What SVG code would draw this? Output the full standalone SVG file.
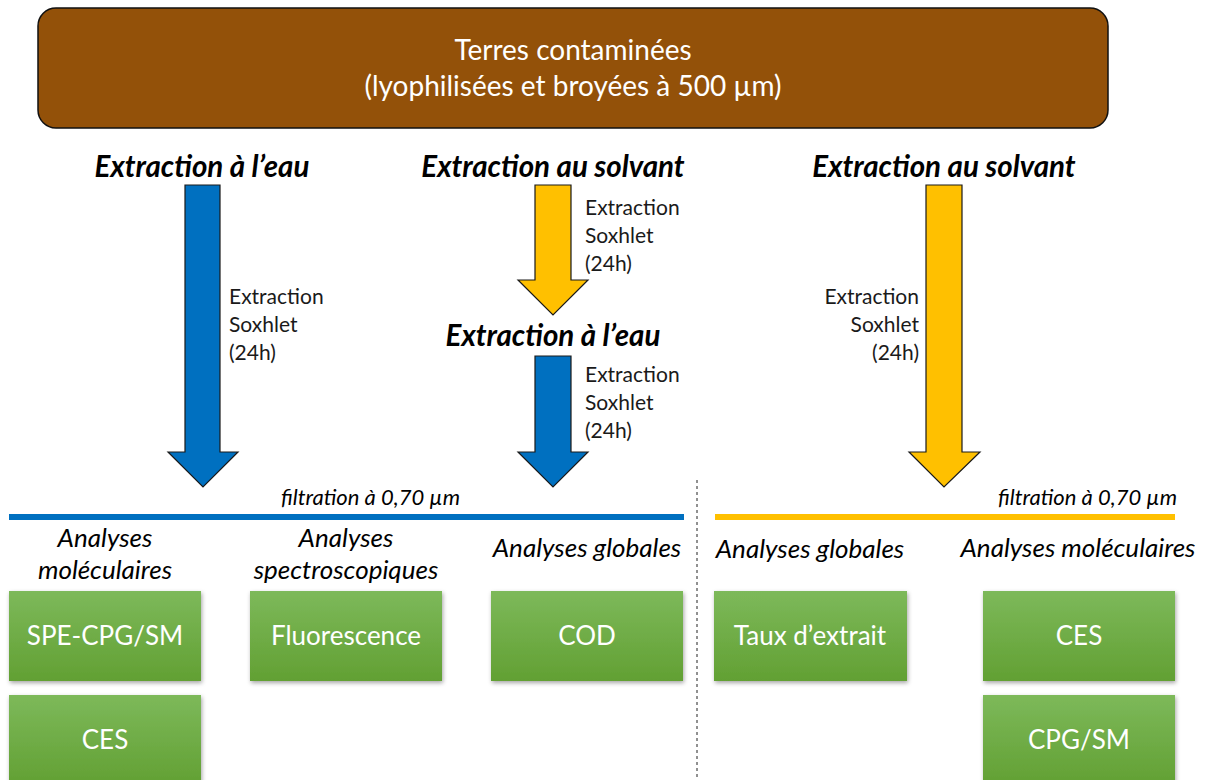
<svg xmlns="http://www.w3.org/2000/svg" width="1205" height="780" viewBox="0 0 1205 780">
<defs>
<linearGradient id="g" x1="0" y1="0" x2="0" y2="1"><stop offset="0" stop-color="#7db95a"/><stop offset="1" stop-color="#62a033"/></linearGradient>
<filter id="sh" x="-10%" y="-10%" width="125%" height="130%"><feDropShadow dx="1" dy="2" stdDeviation="2" flood-color="#000" flood-opacity="0.35"/></filter>
</defs>
<style>
text{font-family:Lato,"Open Sans","Liberation Sans",sans-serif}
.h{font-weight:bold;font-style:italic;font-size:29.5px;fill:#000;text-anchor:middle}
.s{font-size:21px;fill:#1a1a1a}
.a{font-style:italic;font-size:26px;fill:#000;text-anchor:middle}
.f{font-style:italic;font-size:22px;fill:#000;text-anchor:end}
.b{fill:url(#g);filter:url(#sh)}
.bt{font-size:26px;fill:#fff;text-anchor:middle}
.arb{fill:#0070c0;stroke:#1a1a1a;stroke-width:1.2}
.ary{fill:#ffc000;stroke:#1a1a1a;stroke-width:1.2}
</style>
<g id="top">
<rect x="38" y="8" width="1070" height="120" rx="18" fill="#935109" stroke="#111" stroke-width="1.5"/>
<text x="573" y="60" font-size="28" fill="#fff" text-anchor="middle">Terres contaminées</text>
<text x="573" y="96" font-size="28" fill="#fff" text-anchor="middle">(lyophilisées et broyées à 500 µm)</text>
</g>
<g id="headings">
<text class="h" x="202" y="177">Extraction à l’eau</text>
<text class="h" x="553" y="177">Extraction au solvant</text>
<text class="h" x="553" y="346">Extraction à l’eau</text>
<text class="h" x="944" y="177">Extraction au solvant</text>
</g>
<g id="connectors">
<path class="arb" d="M185,185 H220 V452 H238 L203,487 L168,452 H185 Z"/>
<path class="ary" d="M535,185 H571 V280 H588 L553,315 L518,280 H535 Z"/>
<path class="arb" d="M535,356 H571 V452 H588 L553,487 L518,452 H535 Z"/>
<path class="ary" d="M926,185 H962 V452 H980 L944,487 L909,452 H926 Z"/>
<rect x="9" y="514" width="675" height="6" fill="#0070c0"/>
<rect x="715" y="514" width="460" height="6" fill="#ffc000"/>
<line x1="697" y1="480" x2="697" y2="780" stroke="#222" stroke-width="1" stroke-dasharray="3,3"/>
</g>
<g id="labels">
<text class="s" x="229" y="304">Extraction</text>
<text class="s" x="229" y="332">Soxhlet</text>
<text class="s" x="229" y="360">(24h)</text>
<text class="s" x="585" y="215">Extraction</text>
<text class="s" x="585" y="243">Soxhlet</text>
<text class="s" x="585" y="271">(24h)</text>
<text class="s" x="585" y="382">Extraction</text>
<text class="s" x="585" y="410">Soxhlet</text>
<text class="s" x="585" y="438">(24h)</text>
<text class="s" x="919" y="304" text-anchor="end">Extraction</text>
<text class="s" x="919" y="332" text-anchor="end">Soxhlet</text>
<text class="s" x="919" y="360" text-anchor="end">(24h)</text>
<text class="f" x="460" y="505">filtration à 0,70 µm</text>
<text class="f" x="1177" y="505">filtration à 0,70 µm</text>
<text class="a" x="105" y="547">Analyses</text>
<text class="a" x="105" y="579">moléculaires</text>
<text class="a" x="346" y="547">Analyses</text>
<text class="a" x="346" y="579">spectroscopiques</text>
<text class="a" x="587" y="557">Analyses globales</text>
<text class="a" x="810" y="558">Analyses globales</text>
<text class="a" x="1078" y="557">Analyses moléculaires</text>
</g>
<g id="n1"><rect class="b" x="9" y="591" width="192" height="90"/><text class="bt" x="105" y="645">SPE-CPG/SM</text></g>
<g id="n2"><rect class="b" x="9" y="695" width="192" height="90"/><text class="bt" x="105" y="749">CES</text></g>
<g id="n3"><rect class="b" x="250" y="591" width="192" height="90"/><text class="bt" x="346" y="645">Fluorescence</text></g>
<g id="n4"><rect class="b" x="491" y="591" width="192" height="90"/><text class="bt" x="587" y="645">COD</text></g>
<g id="n5"><rect class="b" x="714" y="591" width="193" height="90"/><text class="bt" x="810" y="645">Taux d’extrait</text></g>
<g id="n6"><rect class="b" x="983" y="591" width="192" height="90"/><text class="bt" x="1079" y="645">CES</text></g>
<g id="n7"><rect class="b" x="983" y="695" width="192" height="90"/><text class="bt" x="1079" y="749">CPG/SM</text></g>
</svg>
